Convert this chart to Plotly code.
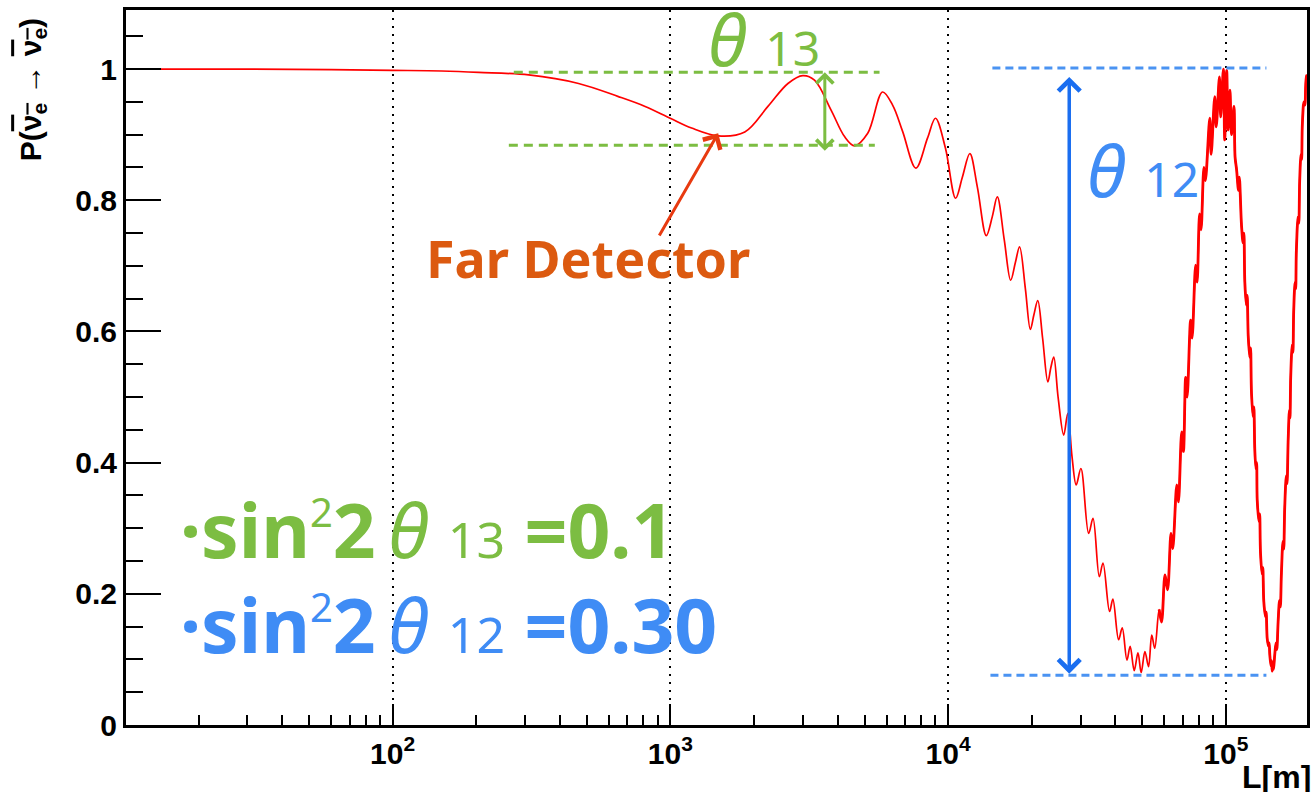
import math
import plotly.graph_objects as go

# ---------------- data ----------------
L_m = [11, 30, 60, 100, 150, 204, 309, 467, 650, 811, 998, 1192, 1486, 1853, 2245,
       2650, 2998, 3303, 3793, 4237, 4603, 5134, 5808, 6310, 6855, 7652, 8433, 9000,
       9771, 10640, 11250, 11970, 12740, 13720, 14420, 15030, 15920, 16790, 17460,
       18080, 18970, 19770, 20350, 21020, 21880, 22850, 23430, 24000, 24880, 26070,
       26960, 27910, 28910, 30060, 32050, 33230, 35020, 36100, 38120, 39180, 41090,
       42340, 44030, 45220, 46760, 48240, 49540, 51100, 52660, 54080, 55450, 57500,
       58660, 60370, 61660, 63440, 64360, 66560, 67480, 69330, 70330, 71630, 72520,
       74640, 75570, 77800, 78770, 80400, 81400, 83340, 84380, 87480, 88500, 91160,
       92300, 94770, 95790, 97950, 99010, 100660, 101840, 103440, 104740, 106930,
       107890, 109240, 111000, 111800, 113850, 115300, 116100, 117010, 118500, 119300,
       120340, 121900, 122700, 123670, 125300, 126100, 127100, 128300, 129000, 129650,
       131500, 132300, 133240, 135000, 135800, 136930, 138800, 139600, 140830, 142300,
       143100, 143890, 145300, 146000, 146770, 147600, 148400, 149900, 151500, 152500,
       154180, 156000, 157000, 158470, 160500, 161500, 162840, 165000, 166000, 167490,
       169300, 170100, 171120, 173300, 174300, 175400, 177400, 178300, 179360, 181900,
       183000, 184330, 186400, 187300, 188490, 191000, 192500, 194810, 197000, 200000]
P_surv = [1.000, 1.000, 0.999, 0.998, 0.997, 0.995, 0.991, 0.978, 0.958, 0.943, 0.925,
          0.910, 0.898, 0.904, 0.943, 0.978, 0.990, 0.983, 0.937, 0.897, 0.883, 0.902,
          0.965, 0.945, 0.905, 0.849, 0.895, 0.925, 0.880, 0.803, 0.835, 0.871, 0.820,
          0.746, 0.775, 0.805, 0.740, 0.678, 0.705, 0.729, 0.665, 0.603, 0.625, 0.647,
          0.590, 0.523, 0.545, 0.561, 0.500, 0.442, 0.475, 0.410, 0.366, 0.391, 0.292,
          0.315, 0.226, 0.247, 0.173, 0.192, 0.130, 0.148, 0.099, 0.120, 0.083, 0.110,
          0.080, 0.112, 0.089, 0.137, 0.117, 0.176, 0.157, 0.229, 0.206, 0.292, 0.269,
          0.366, 0.340, 0.447, 0.417, 0.530, 0.500, 0.617, 0.590, 0.701, 0.675, 0.779,
          0.755, 0.850, 0.830, 0.925, 0.870, 0.958, 0.912, 0.988, 0.927, 1.000, 0.892,
          0.998, 0.907, 0.968, 0.900, 0.943, 0.866, 0.847, 0.815, 0.835, 0.761, 0.735,
          0.750, 0.674, 0.640, 0.655, 0.593, 0.560, 0.575, 0.505, 0.470, 0.485, 0.418,
          0.390, 0.400, 0.343, 0.310, 0.322, 0.262, 0.230, 0.240, 0.188, 0.165, 0.172,
          0.132, 0.120, 0.125, 0.107, 0.090, 0.098, 0.082, 0.095, 0.085, 0.107, 0.125,
          0.115, 0.157, 0.190, 0.180, 0.232, 0.280, 0.268, 0.331, 0.380, 0.368, 0.431,
          0.480, 0.468, 0.530, 0.580, 0.568, 0.630, 0.675, 0.665, 0.723, 0.775, 0.765,
          0.829, 0.870, 0.862, 0.916, 0.950, 0.945, 0.990, 0.985, 1.000]

x_tick_vals = [100, 1000, 10000, 100000]
x_tick_text = ["10<sup>2</sup>", "10<sup>3</sup>", "10<sup>4</sup>", "10<sup>5</sup>"]
x_minor_vals = [m * 10 ** e for e in range(1, 6) for m in range(2, 10)]

# where the drawn curve becomes a dense (thick-looking) band
L_dense_start = 57500

# guide lines (theta13: green, theta12: blue)
g13_hi_L, g13_hi_P = [273, 5662], 0.995
g13_lo_L, g13_lo_P = [262, 5445], 0.884
g12_hi_L, g12_hi_P = [14430, 139900], 1.0015
g12_lo_L, g12_lo_P = [14200, 139900], 0.076

GREEN = "#7cbd42"
BLUE_TXT = "#3f8cf5"
BLUE_ARW = "#1a6ef0"
BLUE_DASH = "#4a93f2"
ORANGE = "#dc5a10"
ARROW_RED = "#e83a10"
FONT_ANN = "Noto Sans"
FONT_AX = "Liberation Sans"

fig = go.Figure()
fig.add_trace(go.Scatter(x=L_m, y=P_surv, mode="lines",
                         line=dict(color="#ff0000", width=1.7, shape="spline", smoothing=1.0),
                         hoverinfo="skip"))
dense = [(l, p) for l, p in zip(L_m, P_surv) if l >= L_dense_start]
fig.add_trace(go.Scatter(x=[d[0] for d in dense], y=[d[1] for d in dense], mode="lines",
                         line=dict(color="#ff0000", width=2.8, shape="spline", smoothing=1.0),
                         hoverinfo="skip"))

for xs, yv, col, dash in [(g13_hi_L, g13_hi_P, GREEN, "9px,6px"),
                          (g13_lo_L, g13_lo_P, GREEN, "9px,6px"),
                          (g12_hi_L, g12_hi_P, BLUE_DASH, "8px,5px"),
                          (g12_lo_L, g12_lo_P, BLUE_DASH, "8px,5px")]:
    fig.add_trace(go.Scatter(x=xs, y=[yv, yv], mode="lines",
                             line=dict(color=col, width=3, dash=dash), hoverinfo="skip"))

ann = []
# theta13 label at top
ann.append(dict(x=3.129, y=1.047, xref="x", yref="y", xanchor="left", yanchor="middle",
                showarrow=False,
                text="<i>θ</i> <span style='font-size:48px'>13</span>",
                font=dict(family=FONT_ANN, size=72, color=GREEN)))
# theta12 label
ann.append(dict(x=4.493, y=0.848, xref="x", yref="y", xanchor="left", yanchor="middle",
                showarrow=False,
                text="<i>θ</i> <span style='font-size:48px'>12</span>",
                font=dict(family=FONT_ANN, size=72, color=BLUE_TXT)))
# Far Detector
ann.append(dict(x=2.113, y=0.712, xref="x", yref="y", xanchor="left", yanchor="middle",
                showarrow=False, text="<b>Far Detector</b>",
                font=dict(family=FONT_ANN, size=52, color=ORANGE)))
ann.append(dict(x=3.172, y=0.902, xref="x", yref="y", ax=2.957, ay=0.744,
                axref="x", ayref="y", text="", showarrow=True, arrowhead=4,
                arrowsize=1.3, arrowwidth=3, arrowcolor=ARROW_RED, standoff=0))
# green double arrow
ann.append(dict(x=3.556, y=0.995, xref="x", yref="y", ax=3.556, ay=0.873,
                axref="x", ayref="y", text="", showarrow=True, arrowhead=4,
                startarrowhead=4, arrowside="end+start", arrowsize=1.1,
                startarrowsize=1.1, arrowwidth=3, arrowcolor=GREEN,
                standoff=0, startstandoff=0))
# blue double arrow
ann.append(dict(x=4.436, y=0.988, xref="x", yref="y", ax=4.436, ay=0.076,
                axref="x", ayref="y", text="", showarrow=True, arrowhead=4,
                startarrowhead=4, arrowside="end+start", arrowsize=1.2,
                startarrowsize=1.2, arrowwidth=3.5, arrowcolor=BLUE_ARW,
                standoff=0, startstandoff=0))
# parameter texts
sin_tpl = ("<b>·sin</b><sup><span style='font-size:40px'>2</span></sup><b>2</b>\u2009"
           "<i>θ</i> <span style='font-size:50px'>{sub}</span> <b>={val}</b>")
ann.append(dict(x=1.228, y=0.299, xref="x", yref="y", xanchor="left", yanchor="middle",
                showarrow=False, text=sin_tpl.format(sub="13", val="0.1"),
                font=dict(family=FONT_ANN, size=75, color=GREEN)))
ann.append(dict(x=1.228, y=0.154, xref="x", yref="y", xanchor="left", yanchor="middle",
                showarrow=False, text=sin_tpl.format(sub="12", val="0.30"),
                font=dict(family=FONT_ANN, size=75, color=BLUE_TXT)))
# axis titles
ann.append(dict(x=-0.0794, y=0.888, xref="paper", yref="paper", xanchor="center",
                yanchor="middle", showarrow=False, textangle=-90,
                text=("<b>P(<span style='text-decoration:overline'>ν<sub>e</sub></span>"
                      " → <span style='text-decoration:overline'>ν<sub>e</sub></span>)</b>"),
                font=dict(family=FONT_AX, size=30, color="black")))
ann.append(dict(x=0.943, y=-0.0727, xref="paper", yref="paper", xanchor="left",
                yanchor="middle", showarrow=False, text="<b>L[m]</b>",
                font=dict(family=FONT_AX, size=32, color="black")))

fig.update_layout(
    width=1313, height=792,
    margin=dict(l=126, r=2.5, t=10, b=67),
    paper_bgcolor="white", plot_bgcolor="white",
    showlegend=False,
    annotations=ann,
    xaxis=dict(type="log", range=[1.040, 5.292],
               tickmode="array", tickvals=x_tick_vals, ticktext=x_tick_text,
               ticks="inside", ticklen=21, tickwidth=2, tickcolor="black",
               showline=True, linewidth=3, linecolor="black", mirror=True,
               showgrid=True, gridcolor="black", gridwidth=2, griddash="2px,6px",
               tickfont=dict(family=FONT_AX, size=30, color="black", weight="bold"),
               minor=dict(tickmode="array", tickvals=x_minor_vals, ticks="inside",
                          ticklen=10, tickwidth=2, tickcolor="black", showgrid=False),
               zeroline=False),
    yaxis=dict(range=[0, 1.09], tickmode="linear", tick0=0, dtick=0.2,
               ticks="inside", ticklen=35, tickwidth=2, tickcolor="black",
               showline=True, linewidth=3, linecolor="black", mirror=True,
               showgrid=False, zeroline=False,
               tickfont=dict(family=FONT_AX, size=30, color="black", weight="bold"),
               minor=dict(dtick=0.05, tick0=0, ticks="inside", ticklen=17, tickwidth=2,
                          tickcolor="black", showgrid=False)),
)

fig.write_html("out.html")
